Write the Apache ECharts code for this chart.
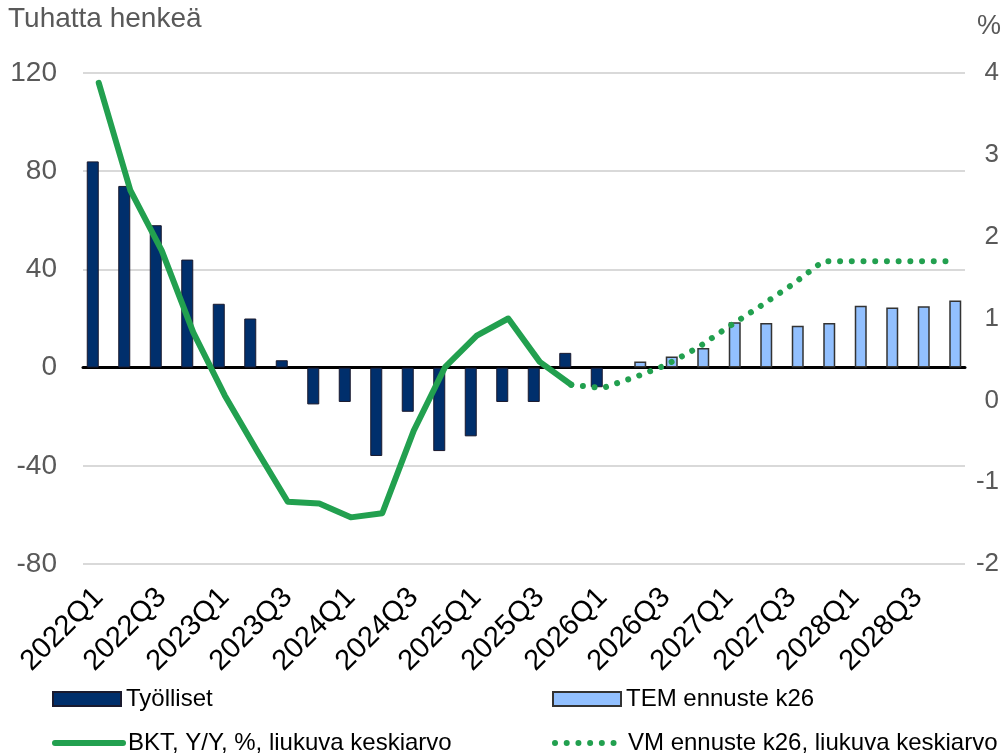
<!DOCTYPE html>
<html>
<head>
<meta charset="utf-8">
<script src="https://cdn.jsdelivr.net/npm/echarts@6/dist/echarts.min.js"></script>
<style>
html,body{margin:0;padding:0;background:#fff;}
#chart{width:1007px;height:755px;}
</style>
</head>
<body>
<div id="chart"></div>
<script>
const categories = [
  '2022Q1','2022Q2','2022Q3','2022Q4',
  '2023Q1','2023Q2','2023Q3','2023Q4',
  '2024Q1','2024Q2','2024Q3','2024Q4',
  '2025Q1','2025Q2','2025Q3','2025Q4',
  '2026Q1','2026Q2','2026Q3','2026Q4',
  '2027Q1','2027Q2','2027Q3','2027Q4',
  '2028Q1','2028Q2','2028Q3','2028Q4'
];
const tyolliset = [84, 74, 58, 44, 26, 20, 3, -15, -14, -36, -18, -34, -28, -14, -14, 6, -8,
  null, null, null, null, null, null, null, null, null, null, null];
const temEnnuste = [null, null, null, null, null, null, null, null, null, null, null, null,
  null, null, null, null, null, 2.5, 4.5, 8, 18.5, 18.2, 17, 18.2, 25.2, 24.5, 25, 27.3];
const bkt = [3.88, 2.57, 1.83, 0.83, 0.06, -0.6, -1.24, -1.26, -1.43, -1.38, -0.37, 0.41,
  0.79, 1.0, 0.47, 0.19, null, null, null, null, null, null, null, null, null, null, null, null];
const vmEnnuste = [null, null, null, null, null, null, null, null, null, null, null, null,
  null, null, null, 0.19, 0.15, 0.28, 0.43, 0.64, 0.9, 1.15, 1.41, 1.7, 1.7, 1.7, 1.7, 1.7];
const leftTicks = { min: -80, max: 120, interval: 40 };
const rightTicks = { min: -2, max: 4, interval: 1 };

const FONT = 'Liberation Sans, Arial, sans-serif';
const GREEN = '#22A04F';
const DOTS = [0.01, 11.7];
const chart = echarts.init(document.getElementById('chart'), null, { renderer: 'canvas' });

function legendItem(name, left, top, extra) {
  return Object.assign({
    data: [name],
    left: left, top: top, padding: 0,
    itemWidth: 68, itemHeight: 14, itemGap: 0,
    textStyle: { fontFamily: FONT, fontSize: 24, color: '#000' },
    selectedMode: false
  }, extra || {});
}

chart.setOption({
  animation: false,
  textStyle: { fontFamily: FONT },
  grid: { left: 83, right: 42, top: 73, bottom: 191, containLabel: false },
  graphic: [
    { type: 'text', left: 8, top: 5, style: { text: 'Tuhatta henkeä', fontFamily: FONT, fontSize: 28, fill: '#595959' } },
    { type: 'text', right: 6, top: 13, style: { text: '%', fontFamily: FONT, fontSize: 27, fill: '#595959' } }
  ],
  legend: [
    legendItem('Työlliset', 52, 687, { icon: 'rect' }),
    legendItem('TEM ennuste k26', 552, 687, { icon: 'rect' }),
    legendItem('BKT, Y/Y, %, liukuva keskiarvo', 52, 731, {
      itemStyle: { opacity: 0 },
      lineStyle: { width: 6, cap: 'round', color: GREEN }
    }),
    legendItem('VM ennuste k26, liukuva keskiarvo', 552, 731, {
      itemStyle: { opacity: 0 },
      lineStyle: { width: 6, cap: 'round', type: DOTS, color: GREEN }
    })
  ],
  xAxis: {
    type: 'category',
    data: categories,
    boundaryGap: true,
    axisLine: { show: true, onZero: true, onZeroAxisIndex: 0, lineStyle: { color: '#000', width: 3 } },
    axisTick: { show: false },
    axisLabel: {
      interval: 1, rotate: 45, margin: 29,
      fontFamily: FONT, fontSize: 29, color: '#000'
    },
    splitLine: { show: false }
  },
  yAxis: [
    {
      type: 'value', min: leftTicks.min, max: leftTicks.max, interval: leftTicks.interval,
      position: 'left',
      axisLine: { show: false }, axisTick: { show: false },
      axisLabel: { margin: 26, fontFamily: FONT, fontSize: 28, color: '#595959' },
      splitLine: { show: true, lineStyle: { color: '#d9d9d9', width: 2 } }
    },
    {
      type: 'value', min: rightTicks.min, max: rightTicks.max, interval: rightTicks.interval,
      position: 'right',
      axisLine: { show: false }, axisTick: { show: false },
      axisLabel: { margin: 34, align: 'right', fontFamily: FONT, fontSize: 26, color: '#595959' },
      splitLine: { show: false }
    }
  ],
  series: [
    {
      name: 'Työlliset', type: 'bar', data: tyolliset, yAxisIndex: 0,
      barWidth: 12, barGap: '0%',
      itemStyle: { color: '#002F6C', borderColor: '#1a1a2e', borderWidth: 1 }
    },
    {
      name: 'TEM ennuste k26', type: 'bar', data: temEnnuste, yAxisIndex: 0,
      barWidth: 12, barGap: '0%',
      itemStyle: { color: '#92C0FF', borderColor: '#333333', borderWidth: 1.5 }
    },
    {
      name: 'BKT, Y/Y, %, liukuva keskiarvo', type: 'line', data: bkt, yAxisIndex: 1,
      symbol: 'none', connectNulls: false, z: 5,
      lineStyle: { color: GREEN, width: 6, cap: 'round', join: 'round' },
      itemStyle: { color: GREEN }
    },
    {
      name: 'VM ennuste k26, liukuva keskiarvo', type: 'line', data: vmEnnuste, yAxisIndex: 1,
      symbol: 'none', z: 5,
      lineStyle: { color: GREEN, width: 6, type: DOTS, cap: 'round' },
      itemStyle: { color: GREEN }
    }
  ]
});
</script>
</body>
</html>
